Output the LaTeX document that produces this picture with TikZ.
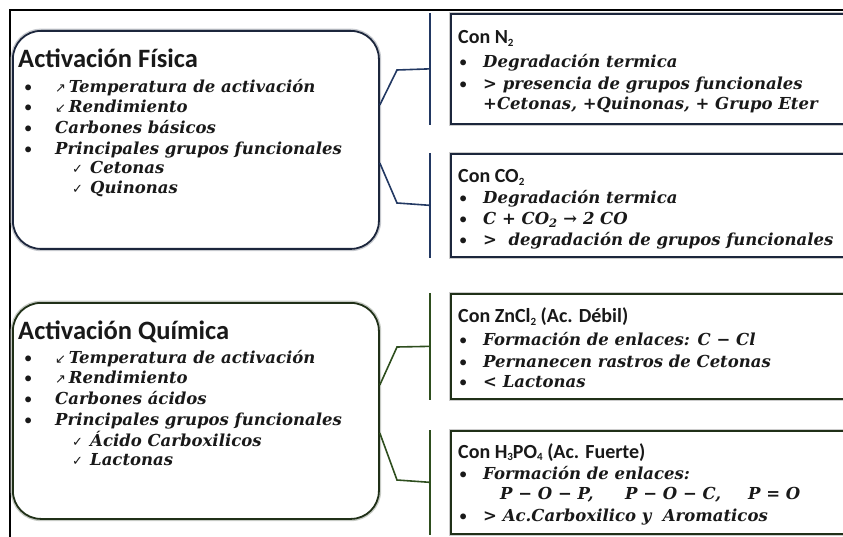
\documentclass[tikz,border=0pt]{standalone}
\usepackage{fontspec}
\setsansfont{Carlito}
\newfontfamily\symfont{DejaVu Sans}
\newfontfamily\itmfont{DejaVu Serif}
\usetikzlibrary{calc}

\definecolor{fisline}{RGB}{28,38,60}
\definecolor{fisbar}{RGB}{34,56,98}
\definecolor{quiline}{RGB}{32,48,24}
\definecolor{quibar}{RGB}{46,78,30}

\newcommand{\upar}{{\normalfont\symfont\fontsize{13}{13}\selectfont ↗}}
\newcommand{\dnar}{{\normalfont\symfont\fontsize{13}{13}\selectfont ↙}}
\newcommand{\chk}{\makebox[18pt][l]{\normalfont\symfont\fontsize{13}{13}\selectfont ✓}}
\newcommand{\blt}{\makebox[31pt][l]{\normalfont\sffamily •}}
\newcommand{\bltr}{\makebox[24pt][l]{\normalfont\sffamily •}}
\newcommand{\sub}[1]{\raisebox{-2.5pt}{\fontsize{11}{11}\selectfont #1}}

\tikzset{
	bigbox/.style = {draw, line width = 1.8pt, rounded corners = 28pt, fill = white,
		minimum width = 366pt, anchor = north west, inner sep = 0pt,
		preaction = {draw = #1!25, line width = 4.5pt}},
	conbox/.style = {draw, line width = 1.7pt, fill = white, anchor = north west,
		minimum width = 420pt, inner sep = 0pt,
		preaction = {draw = black!20, line width = 3.5pt}},
	ttl/.style = {anchor = base west, inner sep = 0pt,
		font = \sffamily\bfseries\fontsize{26.5}{26.5}\selectfont, text = black!90},
	hdr/.style = {anchor = base west, inner sep = 0pt,
		font = \sffamily\bfseries\fontsize{20}{20}\selectfont, text = black!90},
	itm/.style = {anchor = base west, inner sep = 0pt,
		font = \itmfont\bfseries\itshape\fontsize{16.5}{16.5}\selectfont, text = black!90},
	brk/.style = {line width = 1.6pt, line join = miter},
	bar/.style = {line width = 2.2pt},
}

\begin{document}
\begin{tikzpicture}[x = 1pt, y = -1pt]
	\useasboundingbox (0, 0) rectangle (843, 537);
	\clip (0, 0) rectangle (843, 537);
	
	%	frame
	\draw[line width = 1.6pt] (10, 537) -- (10, 10) -- (843, 10);
	
	%	left boxes
	\node[bigbox = fisline, draw = fisline, minimum height = 218pt] (fis) at (12, 30) {};
	\node[bigbox = quiline, draw = quiline, minimum height = 216pt] (qui) at (12, 302) {};
	
	%	right boxes
	\node[conbox, draw = fisline, minimum height = 110pt] (n2) at (450, 13) {};
	\node[conbox, draw = fisline, minimum height = 103pt] (co2) at (450, 153) {};
	\node[conbox, draw = quiline, minimum height = 105pt] (zn) at (450, 293) {};
	\node[conbox, draw = quiline, minimum height = 103pt] (hp) at (450, 430) {};
	
	%	bars
	\foreach \b/\c in {n2/fisbar, co2/fisbar, zn/quibar, hp/quibar}
		\draw[bar, \c] (\b.north west -| 430, 0) -- (\b.south west -| 430, 0);
	
	%	brackets
	\draw[brk, fisbar] (fis.east |- 0, 105) -- (397, 70) -- (n2.west -| 430, 0);
	\draw[brk, fisbar] (fis.east |- 0, 163) -- (397, 203) -- (co2.west -| 430, 0);
	\draw[brk, quibar] (qui.east |- 0, 385) -- (397, 347) -- (zn.west -| 430, 0);
	\draw[brk, quibar] (qui.east |- 0, 433) -- (397, 480) -- (hp.west -| 430, 0);
	
	%	texto izquierda
	\node[ttl] (fisT) at (18, 68) {Activación Física};
	\foreach \y/\t [count = \i] in {93/{\blt\upar\,Temperatura de activación},
			113/{\blt\dnar\,Rendimiento}, 134/{\blt Carbones básicos},
			155/{\blt Principales grupos funcionales}}
		\node[itm] (fis\i) at (24, \y) {\t};
	\node[itm] (fis5) at (72, 174) {\chk Cetonas};
	\node[itm] (fis6) at (72, 194) {\chk Quinonas};
	
	\node[ttl] (quiT) at (18, 339) {Activación Química};
	\foreach \y/\t [count = \i] in {363/{\blt\dnar\,Temperatura de activación},
			383/{\blt\upar\,Rendimiento}, 404/{\blt Carbones ácidos},
			425/{\blt Principales grupos funcionales}}
		\node[itm] (qui\i) at (24, \y) {\t};
	\node[itm] (qui5) at (72, 446) {\chk Ácido Carboxilicos};
	\node[itm] (qui6) at (72, 465) {\chk Lactonas};
	
	%	texto derecha
	\node[hdr] (n2T) at (458, 44) {Con N\sub{2}};
	\node[itm] (n2a) at (459, 68) {\bltr Degradación termica};
	\node[itm] (n2b) at (459, 90) {\bltr > presencia de grupos funcionales};
	\node[itm] (n2c) at (483, 110) {+Cetonas, +Quinonas, + Grupo Eter};
	
	\node[hdr] (co2T) at (458, 183) {Con CO\sub{2}};
	\node[itm] (co2a) at (459, 204) {\bltr Degradación termica};
	\node[itm] (co2b) at (459, 225) {\bltr C + CO\textsubscript{2} → 2 CO};
	\node[itm] (co2c) at (459, 246) {\bltr >\ \ degradación de grupos funcionales};
	
	\node[hdr] (znT) at (458, 323) {Con ZnCl\sub{2} (Ac. Débil)};
	\node[itm] (zna) at (459, 345) {\bltr Formación de enlaces: C − Cl};
	\node[itm] (znb) at (459, 367) {\bltr Pernanecen rastros de Cetonas};
	\node[itm] (znc) at (459, 387) {\bltr < Lactonas};
	
	\node[hdr] (hpT) at (458, 458) {Con H\sub{3}PO\sub{4} (Ac. Fuerte)};
	\node[itm] (hpa) at (459, 479) {\bltr Formación de enlaces:};
	\foreach \x/\t [count = \i] in {500/{P − O − P,}, 625/{P − O − C,}, 748/{P = O}}
		\node[itm] (hpb\i) at (\x, 499) {\t};
	\node[itm] (hpc) at (459, 521) {\bltr > Ac.Carboxilico y\ \ Aromaticos};
\end{tikzpicture}
\end{document}
